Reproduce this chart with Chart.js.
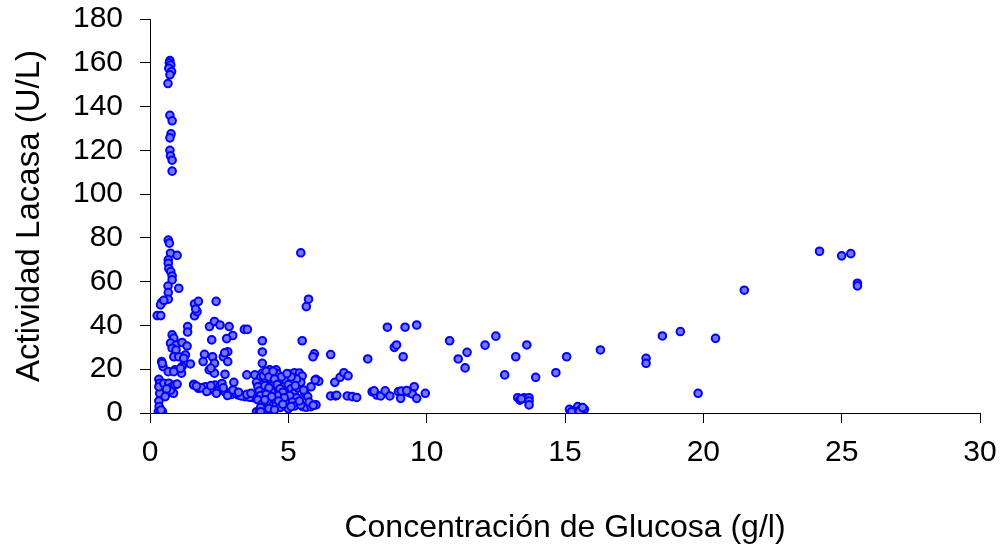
<!DOCTYPE html>
<html>
<head>
<meta charset="utf-8">
<script src="https://cdn.jsdelivr.net/npm/chart.js@4/dist/chart.umd.min.js"></script>
<style>
body { margin: 0; background: #fff; }
#grafico-wrap { width: 1003px; height: 550px; }
</style>
</head>
<body>
<div id="grafico-wrap"><canvas id="grafico" width="1003" height="550"></canvas></div>
<script>
// glucosa (g/l) y actividad lacasa (U/L)
var glucosa = [
    // columna alta cerca de 0.7 g/l
    0.72, 0.70, 0.75, 0.68, 0.78, 0.72, 0.65, 0.72, 0.80, 0.76, 0.72, 0.72, 0.74, 0.80, 0.80,
    0.66, 0.70, 0.74, 0.98, 0.66, 0.66, 0.68, 0.75, 0.80, 0.80, 0.65, 1.04, 0.66, 0.66, 0.47, 0.42, 0.38, 0.26, 0.39, 0.50,
    1.61, 1.75, 1.61, 1.70, 2.39, 1.65,
    // 20-40 U/L
    1.36, 1.36, 2.15, 2.33, 2.53, 2.86, 3.41, 3.52, 2.99, 2.77, 2.23,
    0.80, 0.86, 0.74, 0.94, 1.16, 1.34, 0.80, 0.94, 0.86, 1.04, 1.28, 1.22, 1.46, 1.16, 0.90, 1.14, 0.42, 0.47, 0.44, 0.66, 0.86, 1.10,
    1.97, 2.26, 1.92, 2.33, 2.14, 2.33, 2.65, 2.81, 2.81, 2.71, 3.03, 3.50, 3.79, 2.70, 2.20,
    // parte baja
    0.32, 0.35, 0.38, 0.35, 0.32, 0.33, 0.30, 0.38, 0.45, 0.40, 0.32, 0.50, 0.68, 0.80, 0.72, 0.85, 0.75, 0.90, 0.98, 0.60, 0.55,
    1.58, 1.58, 1.75, 2.00, 2.14, 2.35, 2.53, 2.71, 2.89, 3.19, 3.43, 3.73, 1.85, 2.25, 2.45, 2.60, 2.95, 3.10, 3.30, 3.60, 1.68, 2.05, 2.80,
    2.20, 2.40, 2.65, 3.00, 3.20, 3.50, 3.65,
    4.06, 4.06, 4.06, 4.06, 3.85, 3.95, 4.05, 4.15, 4.25, 4.10, 4.00, 3.85, 3.90, 3.95, 4.00, 3.90, 4.05, 4.00,
    // grupo denso 4-6 g/l
    4.33, 4.56, 5.04, 5.22, 5.40, 5.50, 6.00, 5.82,
    4.20, 4.30, 4.40, 4.50, 4.25, 4.35, 4.45, 4.56,
    4.60, 4.70, 4.80, 4.65, 4.75, 4.90, 4.50, 4.20,
    4.15, 4.40, 4.55, 4.90, 5.00, 5.10, 5.20, 5.30,
    4.85, 5.05, 4.95, 5.15, 5.22, 5.52, 5.65, 5.82,
    6.00, 5.45, 5.35, 5.60, 5.45, 5.70, 5.00, 4.30,
    4.70, 4.60, 4.35, 4.45, 4.75, 5.30,
    4.10, 4.20, 4.30, 4.45, 4.50, 4.60, 4.70, 4.80, 4.85, 4.60, 4.40, 4.30, 4.20, 4.15,
    4.40, 4.65, 4.80, 5.10, 5.40, 5.25, 5.10, 4.95, 5.55, 5.75, 5.90, 6.10, 4.50, 4.00,
    // 5-8 g/l
    5.45, 5.73, 5.65, 5.50, 5.94, 5.89, 6.53, 7.87, 6.68, 6.87, 7.01, 7.16, 6.53, 6.71, 7.13, 7.31, 7.47, 8.03, 8.20, 5.97, 6.75,
    // 8-10 g/l
    8.58, 9.22, 9.64, 8.83, 8.91, 9.15, 8.10, 8.34, 8.50, 8.67, 8.98, 9.06, 9.18, 9.36, 9.55, 9.48, 9.64, 9.95, 9.08, 9.28,
    // 10-16 g/l
    10.83, 11.14, 11.46, 11.39, 12.11, 12.50, 13.22, 13.62, 12.82, 13.94, 14.67, 15.06, 16.28,
    13.29, 13.37, 13.52, 13.70, 13.70, 13.70, 13.42, 15.16, 15.34, 15.46, 15.58, 15.70, 15.39, 15.24, 15.52, 15.64,
    // > 17 g/l
    17.93, 17.93, 18.52, 19.17, 19.81, 20.44, 21.48, 24.20, 25.00, 25.33, 25.57, 25.57
];

var lacasa = [
    161, 160, 159, 157.5, 156, 154.5, 150.5, 136, 133.5, 127.5, 125.7, 120, 117.5, 115.5, 110.5,
    79, 77.6, 73, 72, 70, 68.4, 66, 64.6, 62.6, 60.8, 58, 57, 55, 52, 51, 50.5, 49.4, 44.5, 44.5, 51.5,
    49.8, 51, 44.4, 46.3, 51, 47.5,
    39.5, 37, 39.5, 41.8, 40.2, 39.5, 38.2, 38.2, 35.4, 34, 33.4,
    35.7, 34.2, 31.9, 31, 32.2, 30.6, 29.6, 28.8, 25.7, 25.7, 26.5, 25, 22.4, 21.2, 19.7, 18.2, 23.5, 21.2, 22.7, 18.9, 18.9, 20.4,
    26.8, 25.7, 23.5, 22.7, 19.7, 18.2, 25.7, 28, 23.5, 17.7, 14, 17.4, 17.4, 27.5, 20.5,
    15.4, 13.6, 11.3, 9, 5.5, 3, 0.6, 0.6, 0.6, 1.4, 12, 13.6, 13.6, 12, 9.7, 9, 10.5, 12.8, 13.2, 11, 7.5,
    13.1, 12.8, 11.3, 12, 10.5, 12.8, 12.3, 9.7, 9, 8.2, 7.5, 7, 11.5, 11, 10, 13.5, 8.5, 9.2, 7.8, 7.2, 12.3, 9.8, 8,
    12.5, 9, 11.5, 10.5, 9.5, 8.5, 9,
    33, 27.9, 22.7, 18.2, 0.6, 0.6, 0.6, 0.6, 0.6, 1.5, 16.3, 14, 12, 10, 8, 6, 4, 2.5,
    19.7, 19.7, 17.8, 18.4, 18.2, 16.9, 15.4, 12,
    15, 13, 11, 9, 7, 5, 3.5, 3.5,
    16, 14, 12, 10.5, 8, 6, 6.5, 10,
    12.5, 17, 14.5, 15, 13, 11, 9, 7,
    10, 8, 4.5, 5, 3.2, 2.9, 2.6, 2.9,
    3.7, 3.7, 11.5, 9, 14, 7.5, 2, 2,
    2.5, 18, 15.5, 12.5, 16.5, 15.5,
    17, 19, 16.5, 19, 15.5, 13, 11, 9.5, 7, 8, 9.5, 11.5, 8.5, 6,
    7.5, 5.5, 4, 3, 5.5, 12.5, 16.5, 18, 10.5, 5, 3.5, 14.5, 1.5, 0.6,
    73.2, 52, 48.6, 33, 27, 25.7, 26.7, 24.7, 14, 16.3, 18.4, 17, 7.8, 7.8, 7.8, 7.5, 7.1, 9.7, 8.2, 15.1, 8.1,
    39.2, 39.2, 40.2, 30, 31.1, 25.7, 10.1, 7.8, 10.1, 7.8, 9.8, 6.7, 9.8, 9.3, 12, 8.7, 6.7, 9, 10, 10.2,
    33, 24.7, 27.7, 20.6, 31, 35.1, 25.7, 31.1, 17.4, 16.3, 18.4, 25.7, 28.8,
    7, 5.9, 7, 7, 5.5, 3.7, 6.5, 1.7, 0.9, 2.9, 1.7, 1.7, 0.6, 0.6, 0.8, 2.5,
    25, 22.7, 35.2, 37.2, 9, 34.1, 56.1, 73.9, 71.8, 72.8, 59.3, 58.1
];

var tituloX = 'Concentración de Glucosa (g/l)';
var tituloY = 'Actividad Lacasa (U/L)';
var fuente = "'Liberation Sans', Arial, sans-serif";

function loadScatter(container) {
    if (glucosa.length !== lacasa.length) {
        console.error('glucosa y lacasa no tienen el mismo largo', glucosa.length, lacasa.length);
    }
    var ctx = document.getElementById(container).getContext('2d');

    var chart = new Chart(ctx, {
        type: 'scatter',
        data: {
            datasets: [{
                data: glucosa.map((g, i) => ({ x: g, y: lacasa[i] })),
                backgroundColor: '#7676f2',
                borderColor: '#0000ff',
                pointRadius: 3.8,
                pointBorderWidth: 2,
            }],
        },
        options: {
            responsive: false,
            animation: false,
            layout: {
                padding: { top: 19, right: 23, bottom: 0, left: 0 }
            },
            plugins: {
                legend: { display: false },
                tooltip: { enabled: false }
            },
            scales: {
                x: {
                    type: 'linear',
                    min: 0,
                    max: 30,
                    ticks: {
                        stepSize: 5,
                        color: '#000',
                        padding: 12,
                        maxRotation: 0,
                        font: { family: fuente, size: 30 }
                    },
                    grid: { drawOnChartArea: false, color: '#000', tickLength: 10 },
                    border: { color: '#000', width: 1 },
                    title: {
                        display: true,
                        text: tituloX,
                        color: '#000',
                        font: { family: fuente, size: 32 },
                        padding: { top: 0, bottom: 3 }
                    },
                    afterFit: function(scale) {
                        scale.height = 137;
                        scale.paddingLeft = 0;
                        scale.paddingRight = 0;
                    }
                },
                y: {
                    type: 'linear',
                    min: 0,
                    max: 180,
                    ticks: {
                        stepSize: 20,
                        color: '#000',
                        padding: 17,
                        font: { family: fuente, size: 30 }
                    },
                    grid: { drawOnChartArea: false, color: '#000', tickLength: 10 },
                    border: { color: '#000', width: 1 },
                    title: {
                        display: true,
                        text: tituloY,
                        color: '#000',
                        font: { family: fuente, size: 33 },
                        padding: { top: 10, bottom: 0 }
                    },
                    afterFit: function(scale) {
                        scale.width = 150;
                        scale.paddingTop = 0;
                        scale.paddingBottom = 0;
                    }
                }
            }
        }
    });
}

document.addEventListener('DOMContentLoaded', function() {
    loadScatter('grafico');
});
</script>
</body>
</html>
